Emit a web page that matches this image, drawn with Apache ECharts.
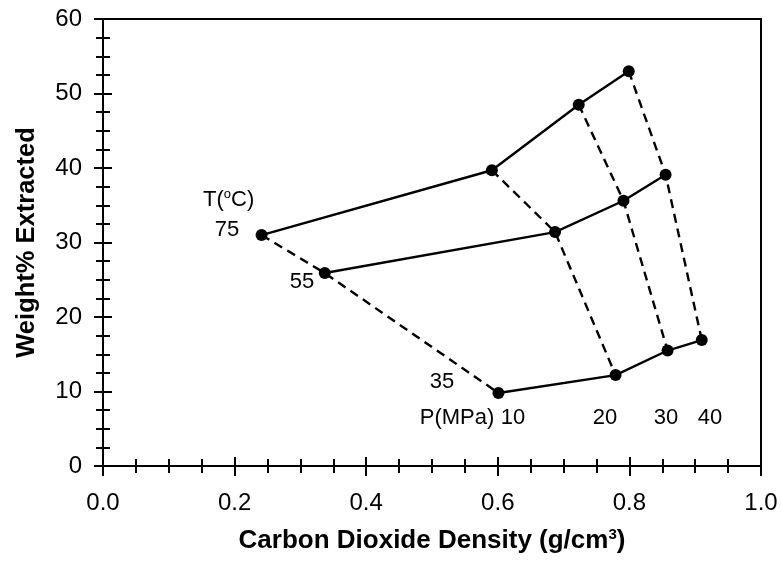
<!DOCTYPE html>
<html>
<head>
<meta charset="utf-8">
<script src="https://cdn.jsdelivr.net/npm/echarts@6/dist/echarts.min.js"></script>
<style>html,body{margin:0;padding:0;background:#fff;}#c{width:781px;height:563px;}</style>
</head>
<body>
<div id="c"></div>
<script>
// Isotherms (T in °C): CO2 density (g/cm3) and weight% extracted, ordered by pressure 10, 20, 30, 40 MPa
const pressures = [10, 20, 30, 40];
const temperatures = [75, 55, 35];
const density75 = [0.241, 0.591, 0.723, 0.799];
const weight75  = [31.0, 39.7, 48.5, 53.0];
const density55 = [0.337, 0.687, 0.791, 0.855];
const weight55  = [25.9, 31.4, 35.6, 39.1];
const density35 = [0.601, 0.779, 0.858, 0.910];
const weight35  = [9.8, 12.2, 15.5, 16.9];
const xTicks = [0, 0.2, 0.4, 0.6, 0.8, 1.0];
const yTicks = [0, 10, 20, 30, 40, 50, 60];

const isoD = [density75, density55, density35];
const isoW = [weight75, weight55, weight35];

const FONT = '"Liberation Sans", Arial, Helvetica, sans-serif';
const chart = echarts.init(document.getElementById('c'), null, { width: 781, height: 563 });

const series = [];
temperatures.forEach((t, i) => {
  series.push({
    type: 'line', name: 'T' + t, xAxisIndex: 0, yAxisIndex: 0,
    data: isoD[i].map((d, k) => [d, isoW[i][k]]),
    symbol: 'circle', symbolSize: 12,
    itemStyle: { color: '#000' },
    lineStyle: { color: '#000', width: 2.4, type: 'solid' },
    z: 5, animation: false
  });
});
pressures.forEach((p, k) => {
  series.push({
    type: 'line', name: 'P' + p, xAxisIndex: 0, yAxisIndex: 0,
    data: temperatures.map((t, i) => [isoD[i][k], isoW[i][k]]),
    symbol: 'none',
    lineStyle: { color: '#000', width: 2.4, type: [9, 6] },
    z: 4, animation: false
  });
});

const axisLineStyle = { show: true, lineStyle: { color: '#000', width: 2 } };
const tl = { color: '#000', width: 2 };

chart.setOption({
  animation: false,
  grid: { left: 103, width: 658, top: 19, height: 447, show: true, borderColor: '#000', borderWidth: 2, backgroundColor: 'transparent' },
  xAxis: [
    {
      type: 'value', min: 0, max: 1, interval: 0.2, position: 'bottom',
      name: 'Carbon Dioxide Density (g/cm{sup|3})', nameLocation: 'middle', nameGap: 61,
      nameTextStyle: { fontFamily: FONT, fontSize: 26, fontWeight: 'bold', color: '#000',
        rich: { sup: { fontFamily: FONT, fontSize: 15, fontWeight: 'bold', color: '#000', verticalAlign: 'top', padding: [0, 0, 12, 0] } } },
      axisLine: axisLineStyle,
      axisTick: { show: true, inside: false, length: 10, lineStyle: tl },
      minorTick: { show: true, splitNumber: 4, length: 7, lineStyle: tl },
      axisLabel: { fontFamily: FONT, fontSize: 24, color: '#000', margin: 25, formatter: v => v.toFixed(1) },
      splitLine: { show: false }
    },
    {
      type: 'value', min: 0, max: 1, interval: 0.2, position: 'bottom',
      axisLine: { show: false },
      axisTick: { show: true, inside: true, length: 9, lineStyle: tl },
      minorTick: { show: true, splitNumber: 4, length: 7, lineStyle: tl },
      axisLabel: { show: false }, splitLine: { show: false }
    }
  ],
  yAxis: [
    {
      type: 'value', min: 0, max: 60, interval: 10, position: 'left',
      name: 'Weight% Extracted', nameLocation: 'middle', nameGap: 63, nameRotate: 90,
      nameTextStyle: { fontFamily: FONT, fontSize: 25.5, fontWeight: 'bold', color: '#000' },
      axisLine: axisLineStyle,
      axisTick: { show: true, inside: false, length: 9, lineStyle: tl },
      minorTick: { show: true, splitNumber: 4, length: 7, lineStyle: tl },
      axisLabel: { fontFamily: FONT, fontSize: 24, color: '#000', margin: 21 },
      splitLine: { show: false }
    },
    {
      type: 'value', min: 0, max: 60, interval: 10, position: 'left',
      axisLine: { show: false },
      axisTick: { show: true, inside: true, length: 9, lineStyle: tl },
      minorTick: { show: true, splitNumber: 4, length: 7, lineStyle: tl },
      axisLabel: { show: false }, splitLine: { show: false }
    }
  ],
  series: series,
  graphic: [
    { type: 'text', left: 203, top: 188, style: { text: 'T({o|o}C)', font: '22px ' + FONT, fill: '#000',
        rich: { o: { fontFamily: FONT, fontSize: 13, fill: '#000', verticalAlign: 'top', padding: [0, 0, 10, 0] } } } },
    { type: 'text', x: 227, y: 230, style: { text: '75', font: '22px ' + FONT, fill: '#000', align: 'center', verticalAlign: 'middle' } },
    { type: 'text', x: 302, y: 282, style: { text: '55', font: '22px ' + FONT, fill: '#000', align: 'center', verticalAlign: 'middle' } },
    { type: 'text', x: 442, y: 382, style: { text: '35', font: '22px ' + FONT, fill: '#000', align: 'center', verticalAlign: 'middle' } },
    { type: 'text', x: 457, y: 418, style: { text: 'P(MPa)', font: '22px ' + FONT, fill: '#000', align: 'center', verticalAlign: 'middle' } },
    { type: 'text', x: 513, y: 418, style: { text: String(pressures[0]), font: '22px ' + FONT, fill: '#000', align: 'center', verticalAlign: 'middle' } },
    { type: 'text', x: 605, y: 418, style: { text: String(pressures[1]), font: '22px ' + FONT, fill: '#000', align: 'center', verticalAlign: 'middle' } },
    { type: 'text', x: 666, y: 418, style: { text: String(pressures[2]), font: '22px ' + FONT, fill: '#000', align: 'center', verticalAlign: 'middle' } },
    { type: 'text', x: 710, y: 418, style: { text: String(pressures[3]), font: '22px ' + FONT, fill: '#000', align: 'center', verticalAlign: 'middle' } }
  ]
});
</script>
</body>
</html>
